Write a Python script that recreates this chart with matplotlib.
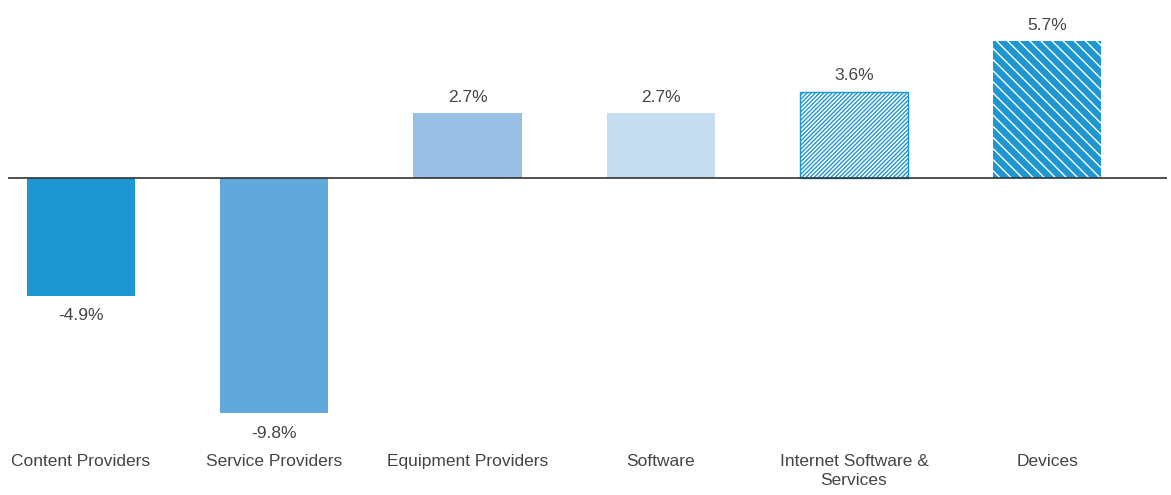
import matplotlib
matplotlib.use("Agg")
import matplotlib.pyplot as plt

categories = ["Content Providers", "Service Providers", "Equipment Providers",
              "Software", "Internet Software &\nServices", "Devices"]
values = [-4.9, -9.8, 2.7, 2.7, 3.6, 5.7]
value_labels = ["-4.9%", "-9.8%", "2.7%", "2.7%", "3.6%", "5.7%"]

plt.rcParams['font.family'] = ['Liberation Sans', 'DejaVu Sans']
plt.rcParams['hatch.linewidth'] = 1.0

W, H = 1171, 495
fig = plt.figure(figsize=(W / 100, H / 100), dpi=100)
ax = fig.add_axes([8 / W, (H - 440) / H, (1167 - 8) / W, 440 / H])

face = ["#1E96D2", "#62A9DB", "#9ABFE4", "#C6DCF1", "#FFFFFF", "#1E96D2"]
edge = ["none", "none", "none", "none", "#1E96D2", "#FFFFFF"]
hatch = [None, None, None, None, "////////", "\\\\\\"]
lw = [0, 0, 0, 0, 1.0, 0]

x = list(range(len(categories)))
bars = ax.bar(x, values, width=0.56, color=face)
for b, ec, h, l in zip(bars, edge, hatch, lw):
    b.set_edgecolor(ec)
    b.set_linewidth(l)
    if h:
        b.set_hatch(h)

ax.axhline(0, color="#333333", lw=1.2, zorder=5)

txt_color = "#444444"
fs = 12.5
for b, v, lab in zip(bars, values, value_labels):
    cx = b.get_x() + b.get_width() / 2
    if v >= 0:
        ax.annotate(lab, (cx, v), xytext=(0, 6), textcoords="offset points",
                    ha="center", va="bottom", fontsize=fs, color=txt_color)
    else:
        ax.annotate(lab, (cx, v), xytext=(0, -9), textcoords="offset points",
                    ha="center", va="top", fontsize=fs, color=txt_color)

ax.set_xlim(-0.378, 5.62)
ax.set_ylim(-10.917, 7.417)
ax.set_xticks(x)
ax.set_xticklabels(categories, fontsize=fs, color=txt_color, linespacing=1.35)
ax.tick_params(axis="x", length=0, pad=10)
ax.set_yticks([])
for s in ax.spines.values():
    s.set_visible(False)

fig.savefig("out.png", dpi=100, facecolor="white")
